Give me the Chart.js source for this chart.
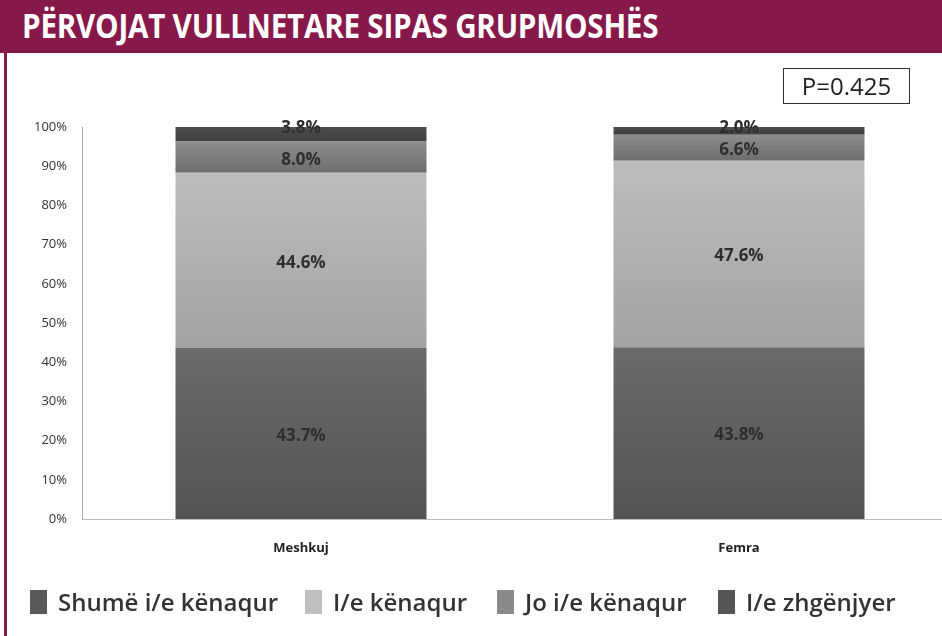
<!DOCTYPE html>
<html>
<head>
<meta charset="utf-8">
<script src="https://cdn.jsdelivr.net/npm/chart.js@4.4.1/dist/chart.umd.min.js"></script>
<style>
  html, body { margin: 0; padding: 0; background: #fff; overflow: hidden; }
  body { width: 942px; height: 636px; position: relative; font-family: "Open Sans", sans-serif; }
  #titleBar { position: absolute; left: 0; top: 0; width: 942px; height: 53px; background: #86184a; }
  #titleBar span { position: absolute; left: 22px; top: 2px; color: #fff; font-weight: 700; font-size: 34px;
                   transform: scaleX(0.873); transform-origin: left center; white-space: nowrap; letter-spacing: -0.3px; }
  #leftBorder { position: absolute; left: 4px; top: 53px; width: 3px; height: 583px; background: #86184a; }
  #pbox { position: absolute; left: 783px; top: 68px; width: 125px; height: 34px; border: 1.5px solid #333;
          font-size: 24px; color: #222; text-align: center; line-height: 34px; }
  #wrap { position: absolute; left: 0; top: 0; width: 958px; height: 636px; }
  .item { position: absolute; top: 585px; display: flex; align-items: center; font-size: 24px; font-weight: 600;
          color: #333; white-space: nowrap; }
  .box { width: 17px; height: 24px; margin-right: 11px; }
</style>
</head>
<body>
<div id="wrap"><canvas id="chart" width="958" height="636"></canvas></div>
<div id="titleBar"><span>PËRVOJAT VULLNETARE SIPAS GRUPMOSHËS</span></div>
<div id="leftBorder"></div>
<div id="pbox">P=0.425</div>
<div id="legend"></div>
<script>
// data
const categories = ["Meshkuj", "Femra"];
const seriesNames = ["Shumë i/e kënaqur", "I/e kënaqur", "Jo i/e kënaqur", "I/e zhgënjyer"];
const shumeKenaqur = [43.7, 43.8];
const kenaqur = [44.6, 47.6];
const joKenaqur = [8.0, 6.6];
const zhgenjyer = [3.8, 2.0];
const yTicks = [0, 10, 20, 30, 40, 50, 60, 70, 80, 90, 100];

const allSeries = [shumeKenaqur, kenaqur, joKenaqur, zhgenjyer];
// gradient top / bottom per series
const shades = [
    ["#6b6b6b", "#535353"],
    ["#bdbdbd", "#a3a3a3"],
    ["#8d8d8d", "#6d6d6d"],
    ["#4d4d4d", "#3f3f3f"]
];
const legendColors = ["#595959", "#bfbfbf", "#8a8a8a", "#555555"];
const legendLeft = [30, 305, 497, 718];

function segColor(ctx) {
    const chart = ctx.chart;
    const ds = ctx.datasetIndex;
    const i = ctx.dataIndex;
    const yScale = chart.scales.y;
    if (!chart.chartArea || !yScale) return shades[ds][1];
    let start = 0;
    for (let k = 0; k < ds; k++) start += allSeries[k][i];
    const end = start + allSeries[ds][i];
    const top = yScale.getPixelForValue(Math.min(end, 100));
    const bottom = yScale.getPixelForValue(start);
    if (!isFinite(top) || !isFinite(bottom) || bottom - top < 1) return shades[ds][1];
    const g = chart.ctx.createLinearGradient(0, top, 0, bottom);
    g.addColorStop(0, shades[ds][0]);
    g.addColorStop(1, shades[ds][1]);
    return g;
}

const barLabels = {
    id: "barLabels",
    afterDatasetsDraw(chart) {
        const c = chart.ctx;
        c.save();
        c.font = "bold 17px 'Open Sans'";
        c.fillStyle = "#2e2e2e";
        c.textAlign = "center";
        c.textBaseline = "middle";
        chart.data.datasets.forEach((ds, di) => {
            const meta = chart.getDatasetMeta(di);
            meta.data.forEach((bar, i) => {
                const v = ds.data[i];
                let y = (bar.y + bar.base) / 2 + 2.5;
                if (di === chart.data.datasets.length - 1) y = Math.max(bar.y, chart.chartArea.top) + 1.5;
                c.fillText(v.toFixed(1) + "%", bar.x, y);
            });
        });
        c.restore();
    }
};

new Chart(document.getElementById("chart"), {
    type: "bar",
    data: {
        labels: categories,
        datasets: allSeries.map((vals, k) => ({
            label: seriesNames[k],
            data: vals,
            backgroundColor: segColor,
            borderWidth: 0,
            barPercentage: 0.573,
            categoryPercentage: 1
        }))
    },
    options: {
        responsive: false,
        animation: false,
        layout: { padding: { left: 0, right: 0, top: 127, bottom: 77 } },
        plugins: { legend: { display: false }, tooltip: { enabled: false } },
        scales: {
            x: {
                stacked: true,
                grid: { display: false, drawTicks: false },
                border: { color: "#bdbdbd", width: 1 },
                ticks: { font: { family: "Open Sans", size: 13, weight: "bold" }, color: "#222", padding: 21 },
                afterFit: (s) => { s.height = 40; }
            },
            y: {
                stacked: true,
                min: 0,
                max: 100,
                afterBuildTicks: (s) => { s.ticks = yTicks.map(v => ({ value: v })); },
                grid: { display: false, drawTicks: false },
                border: { color: "#a6a6a6", width: 1 },
                ticks: { font: { family: "Open Sans", size: 13 }, color: "#333", padding: 15, callback: (v) => v + "%" },
                afterFit: (s) => { s.width = 82; }
            }
        }
    },
    plugins: [barLabels]
});

// html legend
const legend = document.getElementById("legend");
seriesNames.forEach((name, k) => {
    const item = document.createElement("div");
    item.className = "item";
    item.style.left = legendLeft[k] + "px";
    const box = document.createElement("span");
    box.className = "box";
    box.style.background = legendColors[k];
    item.appendChild(box);
    item.appendChild(document.createTextNode(name));
    legend.appendChild(item);
});
</script>
</body>
</html>
